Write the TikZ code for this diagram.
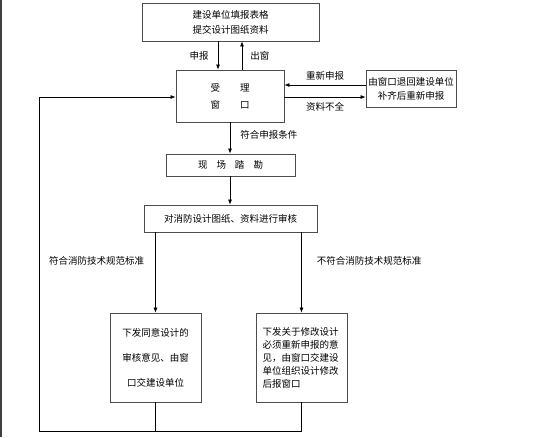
\documentclass[tikz,border=0pt]{standalone}
\usepackage{fontspec}
\setmainfont{Noto Sans CJK SC}
\usetikzlibrary{arrows.meta, positioning, calc}

\begin{document}
\begin{tikzpicture}[x=1pt, y=-1pt,
    every node/.style={font=\fontsize{9.5pt}{11pt}\selectfont},
    box/.style={rectangle, draw=black!70, line width=0.8pt, inner sep=0pt, align=center},
    tag/.style={inner sep=1pt},
    arrow/.style={-{Latex[length=5pt,width=4pt]}, line width=0.7pt},
    link/.style={line width=0.7pt}
]
    \useasboundingbox (0,0) rectangle (540,437);
    \draw[black!75, line width=1.2pt] (1,0) -- (1,437);

    % Boxes
    \node[box, minimum width=177pt, minimum height=38pt] (apply) at (230.5,22) {建设单位填报表格\\[4pt]提交设计图纸资料};
    \node[box, minimum width=108pt, minimum height=52pt] (window) at (230,96) {受\hspace{20pt}理\\[6pt]窗\hspace{20pt}口};
    \node[box, minimum width=90pt, minimum height=37pt] (back) at (411,88.5) {由窗口退回建设单位\\[3pt]补齐后重新申报};
    \node[box, minimum width=129pt, minimum height=22pt] (survey) at (230.5,165) {现\hspace{9pt}场\hspace{9pt}踏\hspace{9pt}勘};
    \node[box, minimum width=173pt, minimum height=27pt] (review) at (230.5,218.5) {对消防设计图纸、资料进行审核};
    \node[box, minimum width=91pt, minimum height=89pt] (approve) at (155.5,357.5) {下发同意设计的\\[14pt]审核意见、由窗\\[14pt]口交建设单位};
    \node[box, minimum width=91pt, minimum height=89pt, text width=78pt, align=left] (revise) at (301.5,357.5) {下发关于修改设计\\[2pt]必须重新申报的意\\[2pt]见，由窗口交建设\\[2pt]单位组织设计修改\\[2pt]后报窗口};

    \coordinate (corner) at (39,431);

    % Flows
    \draw[arrow] ([xshift=-12.5pt]apply.south) -- node[tag, left=8pt] {申报} ([xshift=-12pt]window.north);
    \draw[arrow] ([xshift=12pt]window.north) -- node[tag, right=7pt] {出窗} ([xshift=11.5pt]apply.south);
    \draw[arrow] ([yshift=3.5pt]back.west) -- node[tag, above=3pt] {重新申报} ([yshift=3.5pt]back.west -| window.east);
    \draw[arrow] ([yshift=-1pt]window.east) -- node[tag, below=4pt] {资料不全} ([yshift=-1pt]window.east -| back.west);
    \draw[arrow] (window.south) -- node[tag, right=9pt, pos=0.4] {符合申报条件} (survey.north -| window.south);
    \draw[arrow] (survey.south -| window.south) -- (review.north -| window.south);
    \draw[arrow] (approve.north |- review.south) -- node[tag, left=10pt, pos=0.35] {符合消防技术规范标准} (approve.north);
    \draw[arrow] (revise.north |- review.south) -- node[tag, right=14pt, pos=0.35] {不符合消防技术规范标准} (revise.north);

    % Feedback loop
    \draw[link] (approve.south) -- (approve.south |- corner);
    \draw[arrow] (revise.south) -- (revise.south |- corner) -- (corner) -- ([yshift=-1pt]corner |- window.west) -- ([yshift=-1pt]window.west);
\end{tikzpicture}
\end{document}
